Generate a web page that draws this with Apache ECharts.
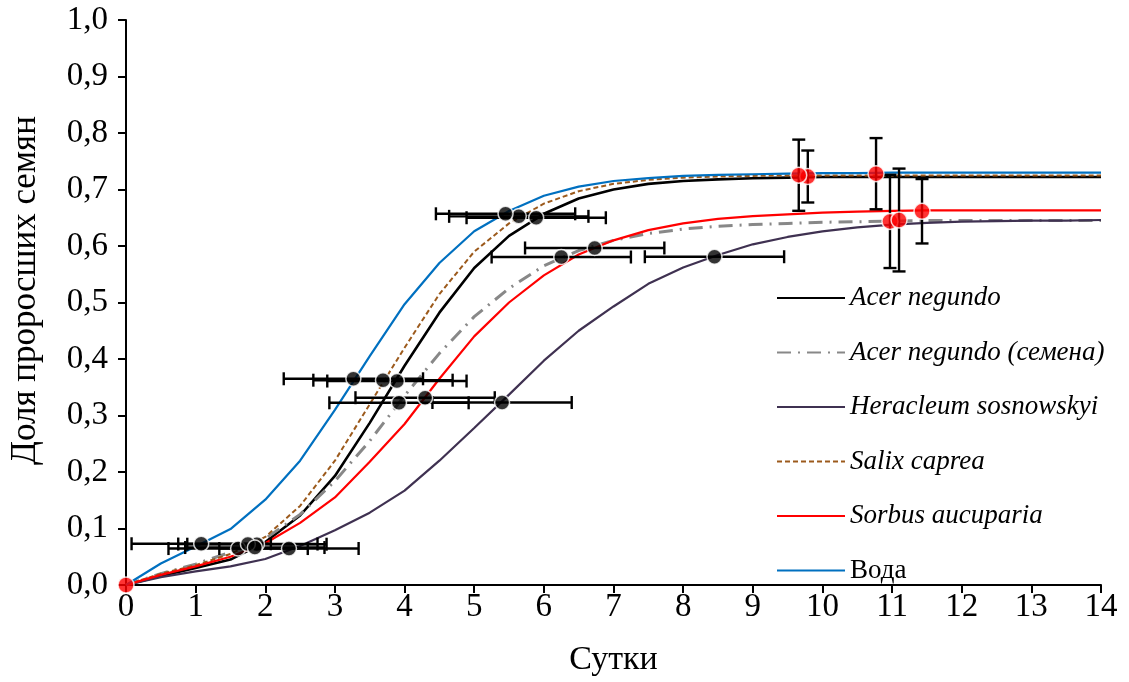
<!DOCTYPE html>
<html>
<head>
<meta charset="utf-8">
<script src="https://cdn.jsdelivr.net/npm/echarts@6/dist/echarts.min.js"></script>
<style>
  html, body { margin: 0; padding: 0; background: #fff; }
  #chart { width: 1129px; height: 682px; }
</style>
</head>
<body>
<div id="chart"></div>
<script>
// Days of observation (curve knots)
const days = [0, 0.5, 1, 1.5, 2, 2.5, 3, 3.5, 4, 4.5, 5, 5.5, 6, 6.5, 7,
              7.5, 8, 8.5, 9, 9.5, 10, 10.5, 11, 11.5, 12, 12.5, 13, 13.5, 14];

// Germinated fraction per treatment
const acerNegundo = [0, 0.016, 0.03, 0.045, 0.076, 0.123, 0.193, 0.287, 0.388, 0.482, 0.561, 0.618, 0.657, 0.684, 0.700,
                     0.710, 0.715, 0.718, 0.720, 0.721, 0.722, 0.722, 0.722, 0.722, 0.722, 0.722, 0.722, 0.722, 0.722];
const acerSeeds   = [0, 0.02, 0.037, 0.058, 0.082, 0.125, 0.184, 0.255, 0.335, 0.41, 0.475, 0.525, 0.565, 0.592, 0.61,
                     0.622, 0.63, 0.635, 0.638, 0.64, 0.642, 0.643, 0.644, 0.645, 0.645, 0.645, 0.645, 0.645, 0.645];
const heracleum   = [0, 0.014, 0.024, 0.033, 0.046, 0.069, 0.097, 0.128, 0.167, 0.22, 0.278, 0.337, 0.397, 0.45, 0.493,
                     0.533, 0.562, 0.584, 0.603, 0.616, 0.626, 0.633, 0.638, 0.641, 0.643, 0.644, 0.645, 0.645, 0.646];
const salix       = [0, 0.02, 0.035, 0.055, 0.085, 0.14, 0.22, 0.32, 0.42, 0.515, 0.59, 0.64, 0.675, 0.697, 0.71,
                     0.717, 0.721, 0.723, 0.724, 0.725, 0.725, 0.725, 0.725, 0.725, 0.725, 0.725, 0.725, 0.725, 0.725];
const sorbus      = [0, 0.018, 0.033, 0.05, 0.074, 0.11, 0.155, 0.218, 0.285, 0.365, 0.44, 0.5, 0.548, 0.585, 0.61,
                     0.628, 0.64, 0.648, 0.653, 0.656, 0.659, 0.661, 0.662, 0.663, 0.663, 0.663, 0.663, 0.663, 0.663];
const water       = [0, 0.038, 0.068, 0.099, 0.151, 0.22, 0.31, 0.405, 0.497, 0.570, 0.626, 0.662, 0.689, 0.705, 0.715,
                     0.72, 0.724, 0.726, 0.727, 0.728, 0.729, 0.729, 0.73, 0.73, 0.73, 0.73, 0.73, 0.73, 0.73];

// Times to 10 %, 50 % and 90 % of final germination (order: A. negundo, A. negundo seeds,
// H. sosnowskyi, S. caprea, S. aucuparia, water) with their errors in days
const t10Day  = [1.88, 1.61, 2.34, 1.75, 1.85, 1.08];
const t10Frac = [0.0722, 0.0645, 0.0646, 0.0725, 0.0663, 0.073];
const t50Day  = [3.89, 3.92, 5.40, 3.69, 4.295, 3.265];
const t50Frac = [0.361, 0.3225, 0.323, 0.3625, 0.3315, 0.365];
const t90Day  = [5.89, 6.25, 8.45, 5.64, 6.73, 5.45];
const t90Frac = [0.65, 0.5805, 0.581, 0.6525, 0.5965, 0.657];
const timeErr = [1.0, 1.0, 1.0, 1.0, 1.0, 1.0];

// Final germination with its error
const maxDay  = [9.79, 10.97, 11.10, 9.66, 11.43, 10.77];
const maxFrac = [0.723, 0.6435, 0.646, 0.7253, 0.6615, 0.728];
const maxErr  = [0.046, 0.0825, 0.091, 0.063, 0.057, 0.063];
const originPoint = [0, 0];

const seriesNames = ['Acer negundo', 'Acer negundo (семена)', 'Heracleum sosnowskyi',
                     'Salix caprea', 'Sorbus aucuparia', 'Вода'];
const xTicks = [0, 1, 2, 3, 4, 5, 6, 7, 8, 9, 10, 11, 12, 13, 14];

const FONT = '"Liberation Serif", "Times New Roman", serif';

function pairs(ys) { return days.map((d, i) => [d, ys[i]]); }

const curveStyles = [
  { color: '#000000', width: 2.6, type: 'solid' },
  { color: '#888888', width: 3, type: [14, 7, 2, 7] },
  { color: '#3f3151', width: 2.2, type: 'solid' },
  { color: '#9c5a1c', width: 2, type: [5, 3] },
  { color: '#ff0000', width: 2.2, type: 'solid' },
  { color: '#0070c0', width: 2.2, type: 'solid' }
];
const curveData = [acerNegundo, acerSeeds, heracleum, salix, sorbus, water];

const lineSeries = curveData.map((ys, i) => ({
  name: seriesNames[i],
  type: 'line',
  data: pairs(ys),
  symbol: 'none',
  smooth: false,
  z: 2,
  color: curveStyles[i].color,
  lineStyle: { color: curveStyles[i].color, width: curveStyles[i].width, type: curveStyles[i].type }
}));

// Horizontal error bars for the characteristic times
const hErrData = [];
[[t10Day, t10Frac], [t50Day, t50Frac], [t90Day, t90Frac]].forEach(([xs, ys]) => {
  xs.forEach((x, i) => hErrData.push([x, ys[i], timeErr[i]]));
});
const vErrData = maxDay.map((x, i) => [x, maxFrac[i], maxErr[i]]);

const CAP = 6.5;
const barStyle = { stroke: '#000', lineWidth: 2.4 };

function renderHErr(params, api) {
  const x = api.value(0), y = api.value(1), e = api.value(2);
  const a = api.coord([x - e, y]);
  const b = api.coord([x + e, y]);
  return {
    type: 'group',
    children: [
      { type: 'line', shape: { x1: a[0], y1: a[1], x2: b[0], y2: b[1] }, style: barStyle },
      { type: 'line', shape: { x1: a[0], y1: a[1] - CAP, x2: a[0], y2: a[1] + CAP }, style: barStyle },
      { type: 'line', shape: { x1: b[0], y1: b[1] - CAP, x2: b[0], y2: b[1] + CAP }, style: barStyle }
    ]
  };
}
function renderVErr(params, api) {
  const x = api.value(0), y = api.value(1), e = api.value(2);
  const a = api.coord([x, y - e]);
  const b = api.coord([x, y + e]);
  return {
    type: 'group',
    children: [
      { type: 'line', shape: { x1: a[0], y1: a[1], x2: b[0], y2: b[1] }, style: barStyle },
      { type: 'line', shape: { x1: a[0] - CAP, y1: a[1], x2: a[0] + CAP, y2: a[1] }, style: barStyle },
      { type: 'line', shape: { x1: b[0] - CAP, y1: b[1], x2: b[0] + CAP, y2: b[1] }, style: barStyle }
    ]
  };
}

const chart = echarts.init(document.getElementById('chart'), null, { renderer: 'canvas' });

chart.setOption({
  animation: false,
  backgroundColor: '#ffffff',
  grid: { left: 122, right: 28, top: 20, bottom: 96, containLabel: false },
  legend: {
    data: seriesNames,
    orient: 'vertical',
    left: 771,
    top: 278,
    itemWidth: 68,
    itemHeight: 14,
    itemGap: 24.5,
    itemStyle: { color: 'rgba(0,0,0,0)', borderColor: 'rgba(0,0,0,0)', borderWidth: 0 },
    textStyle: { fontFamily: FONT, fontSize: 27, fontStyle: 'italic', color: '#000', lineHeight: 30,
                 rich: { n: { fontFamily: FONT, fontSize: 27, fontStyle: 'normal', color: '#000', lineHeight: 30 } } },
    formatter: name => name === 'Вода' ? '{n|Вода}' : name,
    selectedMode: false
  },
  xAxis: {
    type: 'value',
    min: xTicks[0],
    max: xTicks[xTicks.length - 1],
    interval: 1,
    name: 'Сутки',
    nameLocation: 'middle',
    nameGap: 58,
    nameTextStyle: { fontFamily: FONT, fontSize: 34, color: '#000' },
    axisLine: { onZero: false, lineStyle: { color: '#000', width: 2 } },
    axisTick: { show: true, length: 8, lineStyle: { color: '#000', width: 2 } },
    axisLabel: { fontFamily: FONT, fontSize: 33, color: '#000', margin: 6 },
    splitLine: { show: false }
  },
  yAxis: {
    type: 'value',
    min: 0,
    max: 1,
    interval: 0.1,
    name: 'Доля проросших семян',
    nameLocation: 'middle',
    nameGap: 83,
    nameTextStyle: { fontFamily: FONT, fontSize: 35, color: '#000', padding: [0, 0, 0, 24] },
    axisLine: { show: true, lineStyle: { color: '#000', width: 2 } },
    axisTick: { show: true, length: 8, lineStyle: { color: '#000', width: 2 } },
    axisLabel: { fontFamily: FONT, fontSize: 33, color: '#000', margin: 18,
                 formatter: v => v.toFixed(1).replace('.', ',') },
    splitLine: { show: false }
  },
  series: [
    ...lineSeries,
    {
      name: 'timeErr', type: 'custom', renderItem: renderHErr, data: hErrData, z: 3,
      encode: { x: 0, y: 1 }, silent: true
    },
    {
      name: 'maxErr', type: 'custom', renderItem: renderVErr, data: vErrData, z: 3,
      encode: { x: 0, y: 1 }, silent: true
    },
    {
      name: 'times', type: 'scatter', z: 4, clip: false,
      data: hErrData.map(d => [d[0], d[1]]),
      symbol: 'circle', symbolSize: 15,
      itemStyle: { color: '#000', borderColor: '#fff', borderWidth: 1.5 }
    },
    {
      name: 'final', type: 'scatter', z: 4, clip: false,
      data: [originPoint, ...vErrData.map(d => [d[0], d[1]])],
      symbol: 'circle', symbolSize: 16,
      itemStyle: { color: '#ff0000', borderColor: '#fff', borderWidth: 1.5 }
    }
  ]
});
</script>
</body>
</html>
